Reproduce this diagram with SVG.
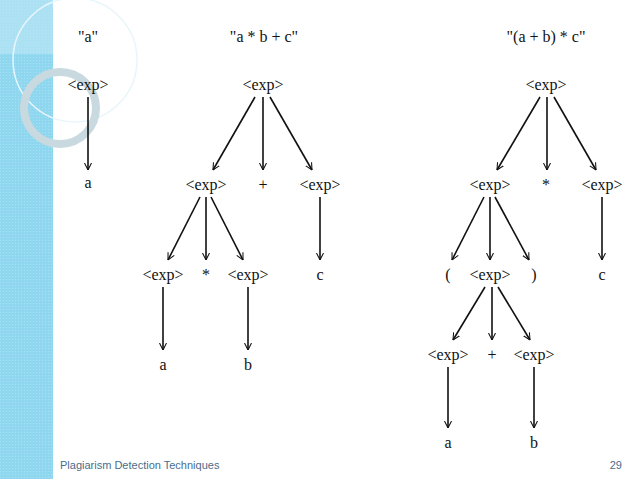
<svg xmlns="http://www.w3.org/2000/svg" width="638" height="479" viewBox="0 0 638 479">
<defs>
<marker id="ah" viewBox="0 0 10 10" refX="10" refY="5" markerWidth="7" markerHeight="9" orient="auto" markerUnits="userSpaceOnUse"><path d="M0,0 L10,5 L0,10" fill="none" stroke="#111" stroke-width="1.5"/></marker>
<pattern id="dots" width="3" height="3" patternUnits="userSpaceOnUse"><rect width="3" height="3" fill="#8fd6ef"/><rect width="1" height="1" fill="#a9e0f4"/></pattern>
</defs>
<style>
text{font-family:"Liberation Serif","Times New Roman",serif;font-size:16px;fill:#111;text-anchor:middle}
.c line{stroke:#111;stroke-width:1.6;marker-end:url(#ah)}
.f{font-family:"Liberation Sans",Arial,sans-serif;font-size:11px;fill:#4a6d8c;text-anchor:start}
</style>
<rect width="638" height="479" fill="#fff"/>
<g id="band">
<rect x="0" y="0" width="53" height="479" fill="url(#dots)"/>
<rect x="0" y="0" width="53" height="54" fill="#bfe7f6" opacity="0.6"/>
<circle cx="75" cy="60" r="62" fill="none" stroke="#e8f6fc" stroke-width="1.5"/>
<circle cx="60" cy="108" r="36" fill="none" stroke="#c9d9e0" stroke-width="8"/>
</g>
<g class="c" id="connectors">
<line x1="88" y1="97" x2="88" y2="170"/>
<line x1="255" y1="97" x2="213" y2="170"/>
<line x1="263" y1="97" x2="263" y2="170"/>
<line x1="270" y1="97" x2="312" y2="170"/>
<line x1="200" y1="197" x2="168" y2="260"/>
<line x1="206" y1="197" x2="206" y2="260"/>
<line x1="211" y1="197" x2="243" y2="260"/>
<line x1="320" y1="197" x2="320" y2="260"/>
<line x1="163" y1="287" x2="163" y2="350"/>
<line x1="248" y1="287" x2="248" y2="350"/>
<line x1="540" y1="97" x2="497" y2="170"/>
<line x1="547" y1="97" x2="547" y2="170"/>
<line x1="554" y1="97" x2="596" y2="170"/>
<line x1="484" y1="197" x2="452" y2="260"/>
<line x1="490" y1="197" x2="490" y2="260"/>
<line x1="495" y1="197" x2="529" y2="260"/>
<line x1="602" y1="197" x2="602" y2="260"/>
<line x1="485" y1="287" x2="453" y2="340"/>
<line x1="492" y1="287" x2="492" y2="340"/>
<line x1="498" y1="287" x2="530" y2="340"/>
<line x1="448" y1="367" x2="448" y2="428"/>
<line x1="534" y1="367" x2="534" y2="428"/>
</g>
<g id="titles">
<text x="88" y="42">"a"</text>
<text x="264" y="42">"a * b + c"</text>
<text x="546" y="42">"(a + b) * c"</text>
</g>
<g id="t1"><text x="88" y="90">&lt;exp&gt;</text><text x="88" y="188">a</text></g>
<g id="t2">
<text x="263" y="90">&lt;exp&gt;</text>
<text x="206" y="190">&lt;exp&gt;</text><text x="263" y="190">+</text><text x="320" y="190">&lt;exp&gt;</text>
<text x="163" y="280">&lt;exp&gt;</text><text x="206" y="280">*</text><text x="248" y="280">&lt;exp&gt;</text><text x="320" y="280">c</text>
<text x="163" y="370">a</text><text x="248" y="370">b</text>
</g>
<g id="t3">
<text x="546" y="90">&lt;exp&gt;</text>
<text x="490" y="190">&lt;exp&gt;</text><text x="546" y="190">*</text><text x="602" y="190">&lt;exp&gt;</text>
<text x="448" y="280">(</text><text x="490" y="280">&lt;exp&gt;</text><text x="534" y="280">)</text><text x="602" y="280">c</text>
<text x="448" y="360">&lt;exp&gt;</text><text x="492" y="360">+</text><text x="534" y="360">&lt;exp&gt;</text>
<text x="448" y="448">a</text><text x="534" y="448">b</text>
</g>
<g id="footer">
<text class="f" x="60" y="469">Plagiarism Detection Techniques</text>
<text class="f" x="622" y="469" style="text-anchor:end">29</text>
</g>
</svg>
